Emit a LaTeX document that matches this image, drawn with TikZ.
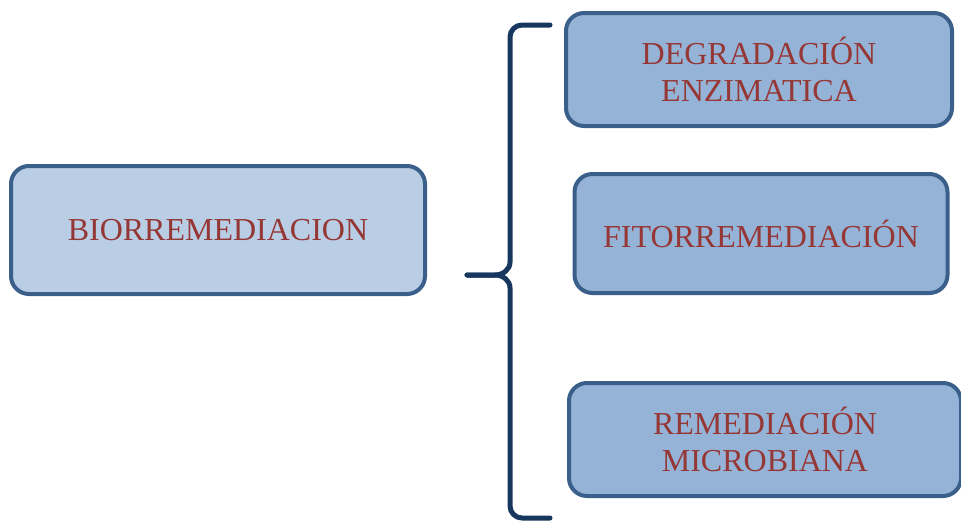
\documentclass[tikz,border=0pt]{standalone}
\usepackage{fontspec}
\setmainfont{Liberation Serif}
\definecolor{boxborder}{HTML}{3A5F8B}
\definecolor{lightfill}{HTML}{B9CDE5}
\definecolor{midfill}{HTML}{95B3D7}
\definecolor{textred}{HTML}{953735}
\definecolor{bracecol}{HTML}{17375E}
\tikzset{
  box/.style={draw=boxborder, line width=4pt, rounded corners=18pt, align=center,
    text=textred, font=\fontsize{32}{37}\selectfont, inner sep=0pt},
  bracestyle/.style={draw=bracecol, line width=5pt, line cap=round, line join=round}
}
\begin{document}
\begin{tikzpicture}[x=1pt,y=-1pt]
\useasboundingbox (0,0) rectangle (961,522);
\node[box, fill=lightfill, minimum width=414pt, minimum height=128pt] (bio) at (218,230) {BIORREMEDIACION};
\node[box, fill=midfill, minimum width=386pt, minimum height=113pt] (deg) at (759,69.5) {DEGRADACIÓN\\ENZIMATICA};
\node[box, fill=midfill, minimum width=373pt, minimum height=119pt] (fito) at (761,233.5) {FITORREMEDIACIÓN};
\node[box, fill=midfill, minimum width=392pt, minimum height=113pt] (micro) at (765,439.5) {REMEDIACIÓN\\MICROBIANA};
\coordinate (tip) at (467,275);
\coordinate (top) at (550,25);
\coordinate (bot) at (550,518);
\draw[bracestyle] (top) -- (522,25) to[out=180,in=90] (510,37) -- (510,262)
  to[out=-90,in=0] (495,275) -- (tip);
\draw[bracestyle] (tip) -- (495,275) to[out=0,in=90] (510,288) -- (510,506)
  to[out=-90,in=180] (522,518) -- (bot);
\end{tikzpicture}
\end{document}
